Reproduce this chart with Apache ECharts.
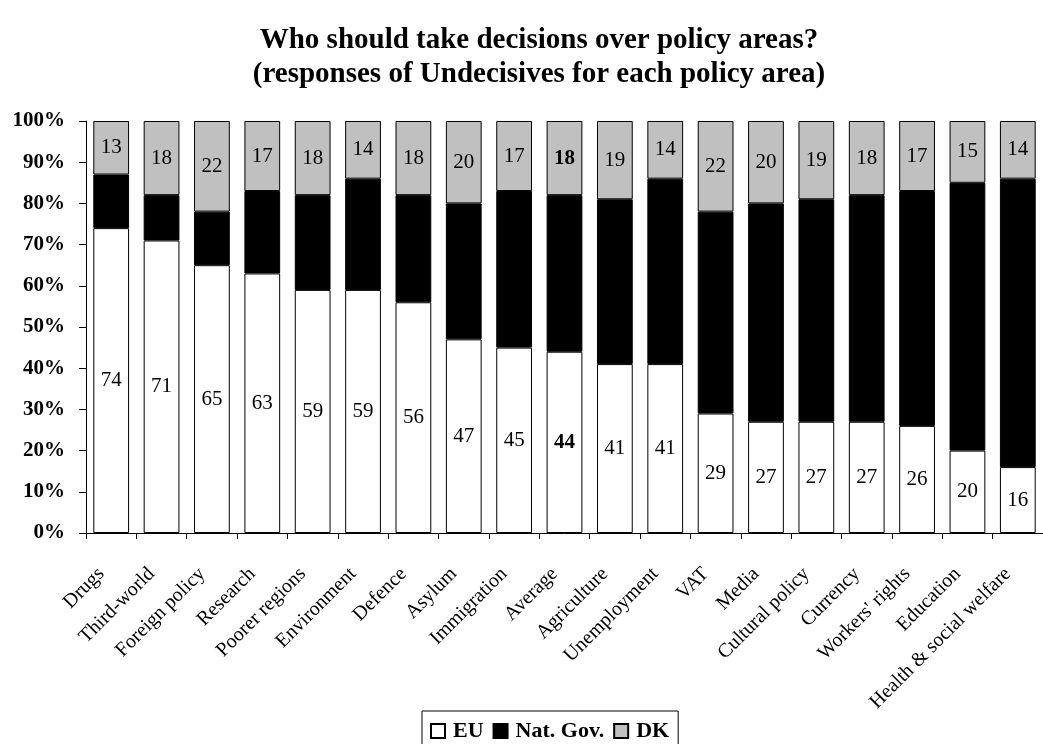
<!DOCTYPE html>
<html><head><meta charset="utf-8">
<script src="https://cdn.jsdelivr.net/npm/echarts@6/dist/echarts.min.js"></script>
<style>html,body{margin:0;padding:0;background:#fff}#c{width:1043px;height:744px}</style>
</head><body><div id="c"></div>
<script>
const categories = ['Drugs','Third-world','Foreign policy','Research','Poorer regions','Environment','Defence','Asylum','Immigration','Average','Agriculture','Unemployment','VAT','Media','Cultural policy','Currency',"Workers' rights",'Education','Health & social welfare'];
const euValues = [74,71,65,63,59,59,56,47,45,44,41,41,29,27,27,27,26,20,16];
const natGovValues = [13,11,13,20,23,27,26,33,38,38,40,45,49,53,54,55,57,65,70];
const dkValues = [13,18,22,17,18,14,18,20,17,18,19,14,22,20,19,18,17,15,14];
const yTicks = [0,10,20,30,40,50,60,70,80,90,100];
const boldCategory = 'Average';

const FONT = "'Liberation Serif','Times New Roman',serif";
function withBold(arr){
  return arr.map((v,i)=> categories[i]===boldCategory ? {value:v,label:{fontWeight:'bold'}} : v);
}
const chart = echarts.init(document.getElementById('c'));
chart.setOption({
  animation:false,
  backgroundColor:'#fff',
  textStyle:{fontFamily:FONT,color:'#000'},
  title:{
    text:'Who should take decisions over policy areas?\n(responses of Undecisives for each policy area)',
    left:534, textAlign:'center', top:19,
    textStyle:{fontFamily:FONT,fontWeight:'bold',fontSize:29,lineHeight:34,color:'#000'}
  },
  legend:{
    data:['EU','Nat. Gov.','DK'],
    left:422, top:711,
    icon:'rect', itemWidth:14, itemHeight:14, itemGap:9,
    borderColor:'#000', borderWidth:1, padding:[9,9,8,8],
    textStyle:{fontFamily:FONT,fontWeight:'bold',fontSize:22,color:'#000',padding:[0,0,0,3]}
  },
  grid:{left:86, top:121, width:964, height:412, containLabel:false},
  xAxis:{
    type:'category', data:categories,
    axisLine:{lineStyle:{color:'#000',width:1}},
    axisTick:{show:true,length:6,lineStyle:{color:'#000'}},
    axisLabel:{rotate:45,interval:0,fontFamily:FONT,fontSize:20,color:'#000',margin:28,padding:[0,14,0,0]}
  },
  yAxis:{
    type:'value', min:0, max:100, interval:10,
    axisLine:{show:true,lineStyle:{color:'#000',width:1}},
    axisTick:{show:true,length:7,lineStyle:{color:'#000'}},
    splitLine:{show:false},
    axisLabel:{formatter:v=>v+'%',fontFamily:FONT,fontWeight:'bold',fontSize:21,color:'#000',margin:21}
  },
  series:[
    {name:'EU',type:'bar',stack:'a',data:withBold(euValues),barWidth:'71%',
     itemStyle:{color:'#fff',borderColor:'#000',borderWidth:1},
     label:{show:true,position:'inside',fontFamily:FONT,fontSize:21,color:'#000'}},
    {name:'Nat. Gov.',type:'bar',stack:'a',data:natGovValues,barWidth:'71%',
     itemStyle:{color:'#000',borderColor:'#000',borderWidth:1}},
    {name:'DK',type:'bar',stack:'a',data:withBold(dkValues),barWidth:'71%',
     itemStyle:{color:'#c0c0c0',borderColor:'#000',borderWidth:1},
     label:{show:true,position:'inside',fontFamily:FONT,fontSize:21,color:'#000'}}
  ]
});
</script></body></html>
